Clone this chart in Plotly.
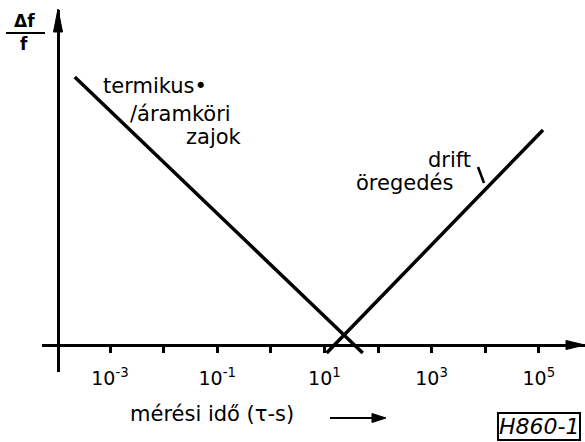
import plotly.graph_objects as go

# Figure size in pixels
W, H = 585, 442

# Measurement time (s) and relative frequency error for the two regimes
noise_T = [2.2e-4, 52]        # thermal / circuit noise, falls with averaging time
noise_df = [2.68, -0.08]
drift_T = [11, 1.2e5]         # drift / ageing, grows with averaging time
drift_df = [-0.08, 2.15]

# Decade ticks, labelled on odd exponents only
tick_exp = list(range(-3, 6))
tick_vals = [10.0 ** e for e in tick_exp]
tick_text = [f"10<sup>{e}</sup>" if e % 2 else "" for e in tick_exp]

FONT = "DejaVu Sans"
INK = "black"


def px(x):
    return x / W


def py(y):
    return (H - y) / H


fig = go.Figure()
fig.add_trace(go.Scatter(x=noise_T, y=noise_df, mode="lines",
                         line=dict(color=INK, width=3.5), hoverinfo="skip"))
fig.add_trace(go.Scatter(x=drift_T, y=drift_df, mode="lines",
                         line=dict(color=INK, width=3.5), hoverinfo="skip"))

fig.update_layout(
    width=W, height=H,
    margin=dict(l=0, r=0, t=0, b=0),
    paper_bgcolor="white", plot_bgcolor="white",
    showlegend=False,
    font=dict(family=FONT, color=INK),
    xaxis=dict(
        type="log", domain=[px(42), 1], range=[-4.2687, 5.862],
        anchor="free", position=py(345),
        showline=True, linecolor=INK, linewidth=2.5,
        showgrid=False, zeroline=False,
        tickmode="array", tickvals=tick_vals, ticktext=tick_text,
        ticks="outside", ticklen=6, tickwidth=2.5, tickcolor=INK,
        tickfont=dict(family=FONT, size=19, color=INK),
        ticklabelstandoff=9,
    ),
    yaxis=dict(
        domain=[py(372), py(10)], range=[-0.27, 3.35],
        anchor="free", position=px(58),
        showline=True, linecolor=INK, linewidth=3,
        showgrid=False, zeroline=False,
        showticklabels=False, ticks="",
    ),
)

shapes = [
    # arrowhead of the vertical axis
    dict(type="path", xref="paper", yref="paper",
         path=f"M {px(58)},{py(9)} L {px(53.5)},{py(32)} L {px(62.5)},{py(32)} Z",
         fillcolor=INK, line=dict(color=INK, width=1)),
    # arrowhead of the horizontal axis
    dict(type="path", xref="paper", yref="paper",
         path=f"M {px(585)},{py(345)} L {px(566)},{py(340.5)} L {px(566)},{py(349.5)} Z",
         fillcolor=INK, line=dict(color=INK, width=1)),
    # fraction bar of the y label
    dict(type="line", xref="paper", yref="paper",
         x0=px(6), x1=px(45), y0=py(33), y1=py(33),
         line=dict(color=INK, width=2)),
    # leader stroke from "drift" to its line
    dict(type="line", xref="paper", yref="paper",
         x0=px(478), x1=px(484), y0=py(167), y1=py(183),
         line=dict(color=INK, width=2.5)),
    # arrowhead after the axis caption
    dict(type="path", xref="paper", yref="paper",
         path=f"M {px(386)},{py(418)} L {px(372)},{py(413.5)} L {px(372)},{py(422.5)} Z",
         fillcolor=INK, line=dict(color=INK, width=1)),
    # shaft of that arrow
    dict(type="line", xref="paper", yref="paper",
         x0=px(330), x1=px(374), y0=py(418), y1=py(418),
         line=dict(color=INK, width=2)),
]
fig.update_layout(shapes=shapes)


def label(text, x, y, size=21, **kw):
    fig.add_annotation(text=text, xref="paper", yref="paper",
                       x=px(x), y=py(y), xanchor=kw.pop("xanchor", "left"),
                       yanchor=kw.pop("yanchor", "middle"), showarrow=False,
                       font=dict(family=FONT, size=size, color=INK), **kw)


label("<b>Δf</b>", 24, 21, size=17, xanchor="center")
label("<b>f</b>", 24, 44, size=17, xanchor="center")
label("termikus•", 101, 86)
label("/áramköri", 128, 114)
label("zajok", 184, 137)
label("drift", 426, 160)
label("öregedés", 354, 183)
label("mérési idő (τ-s)", 128, 414, size=21)

# drawing code in a box
fig.add_annotation(text="<i>H860-1</i>", xref="paper", yref="paper",
                   x=px(497), y=py(426), xanchor="left", yanchor="middle",
                   showarrow=False, bordercolor=INK, borderwidth=2, borderpad=0,
                   font=dict(family=FONT, size=22, color=INK))

fig.write_html("out.html")
